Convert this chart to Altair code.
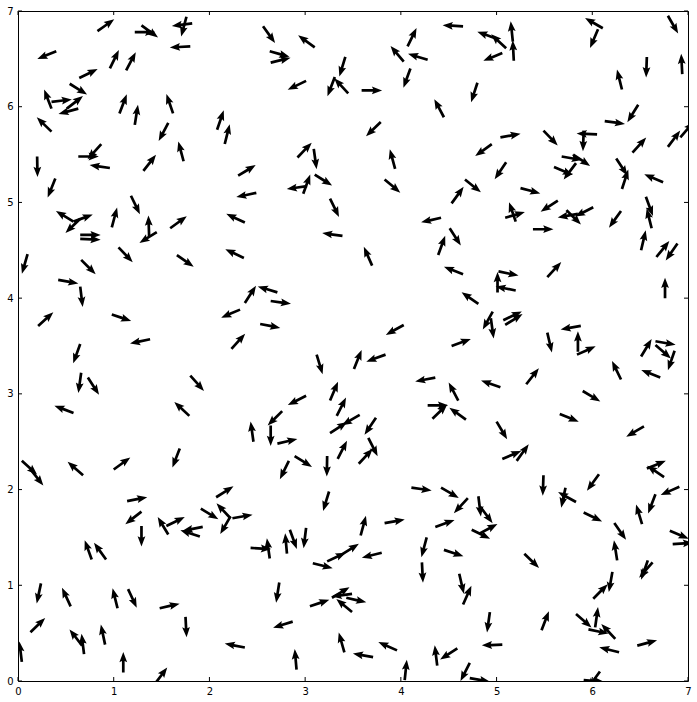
import altair as alt
import pandas as pd

tick_values = [0, 1, 2, 3, 4, 5, 6, 7]

# arrow tails (data units) and directions (degrees, counter-clockwise from +x)
x_tail = (
    [0.83, 1.22, 1.29, 1.82, 1.76, 1.80, 0.40, 0.96, 1.13, 0.64, 0.54, 0.35, 0.35, 0.51, 0.63, 0.35, 1.06, 1.22, 1.62, 1.57, 2.08, 2.16, 0.87, 0.63, 0.96, 0.20, 1.31, 1.73]
    + [2.56, 3.10, 2.63, 2.64, 3.42, 3.01, 3.31, 3.45, 3.59, 4.03, 4.07, 4.28, 4.10, 4.65, 4.45, 3.79, 2.92, 3.09, 3.94, 2.30]
    + [5.00, 5.10, 5.18, 5.17, 5.06, 6.11, 6.06, 6.79, 6.94, 6.57, 6.31, 4.80, 6.48, 6.13, 5.04, 4.95, 5.49, 6.05, 5.91, 5.10, 5.68, 5.80, 5.60, 5.83, 6.25, 6.42, 6.79, 6.92]
    + [0.39, 0.58, 0.58, 0.65, 0.65, 0.65, 0.98, 1.18, 1.37, 1.45, 1.59, 2.37, 0.10, 1.05, 1.66, 2.36, 0.66, 0.42, 0.65, 0.21, 0.98, 2.32, 1.38, 2.23]
    + [2.98, 3.02, 3.10, 3.26, 2.49, 3.39, 3.83, 4.53, 4.42, 4.51, 4.39, 3.70, 4.65, 2.37, 2.71, 2.64, 2.53, 4.03, 4.53]
    + [4.67, 6.31, 6.74, 5.25, 5.64, 5.09, 5.20, 5.85, 5.73, 6.01, 6.30, 6.56, 6.62, 5.38, 6.51, 6.67, 6.89, 5.53, 5.02, 5.01, 5.20, 4.81, 6.76, 4.96, 4.94, 5.07, 5.09, 5.88, 5.53, 5.85, 6.66]
    + [5.84, 6.51, 6.66, 6.86, 6.71, 6.30, 5.31, 5.04, 5.90, 5.66, 5.00, 6.54, 5.06, 5.21, 6.75, 6.57, 6.07, 5.49, 5.83, 5.72, 6.91, 6.66, 4.81, 4.83, 5.91, 6.52]
    + [0.65, 0.66, 0.73, 0.58, 1.80, 1.79, 0.04, 0.13, 0.68, 1.00, 1.69, 1.14, 2.07, 1.29, 1.91, 2.22, 2.24, 2.22, 1.57, 1.55]
    + [3.12, 3.51, 3.84, 4.36, 4.60, 4.28, 4.33, 4.68, 3.26, 3.01, 2.76, 2.46, 2.64, 2.71, 3.33, 3.26, 3.57, 3.74, 3.66, 3.56, 3.34, 2.83, 2.89, 3.23, 3.25, 4.11, 4.42, 4.70]
    + [1.29, 1.93, 1.90, 0.77, 0.92, 0.24, 0.55, 1.04, 1.15, 1.48, 1.75, 0.13, 0.67, 0.69, 0.91, 0.04, 1.10, 2.37, 1.43]
    + [3.58, 3.83, 4.36, 2.43, 2.63, 2.81, 2.84, 3.01, 3.23, 3.38, 3.80, 3.08, 4.27, 4.45, 4.22, 4.61, 4.65, 2.73, 3.05, 3.28, 3.49, 3.43, 3.49, 2.87, 3.41, 3.71, 3.96, 2.91, 4.04, 4.38, 4.59, 4.72]
    + [4.74, 4.82, 6.23, 6.81, 6.84, 6.26, 5.29, 6.63, 6.58, 6.21, 6.01, 4.93, 5.47, 5.83, 6.03, 5.96, 6.24, 5.06, 6.28, 6.47, 4.72, 6.08, 5.91]
)
y_tail = (
    [6.79, 6.78, 6.85, 6.87, 6.94, 6.63, 6.58, 6.40, 6.38, 6.30, 6.24, 5.98, 6.05, 5.98, 5.98, 5.74, 5.93, 5.81, 5.93, 5.83, 5.76, 5.61, 5.61, 5.48, 5.36, 5.48, 5.33, 5.43]
    + [6.84, 6.62, 6.58, 6.46, 6.52, 6.27, 6.31, 6.14, 6.17, 6.47, 6.63, 6.49, 6.40, 6.84, 5.89, 5.84, 5.47, 5.56, 5.35, 5.28]
    + [6.71, 6.61, 6.48, 6.68, 6.56, 6.82, 6.81, 6.95, 6.34, 6.52, 6.18, 6.25, 6.02, 5.85, 5.68, 5.61, 5.75, 5.71, 5.75, 5.42, 5.48, 5.50, 5.37, 5.41, 5.46, 5.52, 5.58, 5.68]
    + [5.25, 4.80, 4.80, 4.83, 4.66, 4.62, 4.74, 5.07, 4.65, 4.69, 4.73, 4.79, 4.46, 4.53, 4.45, 4.42, 4.40, 4.19, 4.12, 3.71, 3.83, 3.88, 3.57, 3.47]
    + [5.09, 5.17, 5.29, 5.04, 5.10, 4.65, 5.24, 4.99, 4.84, 4.73, 4.45, 4.34, 4.25, 3.95, 4.06, 3.97, 3.73, 3.72, 3.50]
    + [5.24, 5.14, 5.21, 5.15, 5.02, 4.84, 4.80, 4.88, 4.92, 4.95, 4.91, 5.06, 4.73, 4.72, 4.50, 4.43, 4.57, 4.22, 4.28, 4.06, 4.08, 3.94, 4.00, 3.86, 3.79, 3.77, 3.72, 3.71, 3.64, 3.44, 3.55]
    + [3.41, 3.39, 3.51, 3.45, 3.17, 3.15, 3.10, 3.07, 3.03, 2.79, 2.71, 2.66, 2.32, 2.30, 2.13, 2.22, 2.16, 2.15, 1.87, 2.02, 2.03, 1.95, 1.93, 1.82, 1.76, 1.64]
    + [3.52, 3.22, 3.17, 2.80, 3.19, 2.77, 2.30, 2.21, 2.15, 2.21, 2.43, 1.88, 1.92, 1.77, 1.80, 1.70, 1.70, 1.72, 1.53, 1.62]
    + [3.41, 3.26, 3.41, 3.17, 2.93, 2.88, 2.74, 2.73, 2.93, 2.98, 2.82, 2.50, 2.67, 2.48, 2.77, 2.59, 2.78, 2.75, 2.54, 2.27, 2.32, 2.30, 2.35, 2.35, 1.98, 2.02, 2.02, 1.91]
    + [1.62, 1.61, 1.51, 1.27, 1.27, 1.02, 0.78, 0.76, 0.96, 0.76, 0.67, 0.51, 0.37, 0.28, 0.38, 0.20, 0.09, 0.35, -0.03]
    + [1.52, 1.65, 1.61, 1.39, 1.28, 1.33, 1.58, 1.60, 1.25, 1.32, 1.34, 1.23, 1.50, 1.37, 1.24, 1.12, 0.80, 1.03, 0.78, 0.87, 0.91, 0.87, 0.72, 0.62, 0.30, 0.25, 0.32, 0.12, 0.01, 0.16, 0.34, 0.19]
    + [1.58, 1.54, 1.65, 1.57, 1.43, 1.26, 1.33, 1.24, 1.26, 1.14, 0.86, 0.72, 0.53, 0.70, 0.56, 0.54, 0.44, 0.38, 0.30, 0.37, 0.03, 0.10, 0.01]
)
direction = (
    [35, 0, 324, 187, 255, 183, 202, 64, 62, 26, 328, 111, 7, 38, 195, 136, 69, 81, 109, 242, 71, 76, 228, 0, 172, 271, 52, 105]
    + [306, 144, 344, 14, 253, 206, 249, 133, 0, 130, 64, 163, 250, 177, 118, 224, 46, 278, 105, 31]
    + [160, 137, 93, 96, 202, 150, 247, 300, 93, 268, 104, 252, 238, 352, 10, 216, 314, 177, 268, 236, 350, 326, 337, 233, 303, 48, 53, 49]
    + [248, 149, 20, 224, 0, 357, 75, 296, 92, 212, 36, 155, 254, 314, 325, 155, 315, 350, 277, 42, 341, 203, 192, 48]
    + [70, 188, 328, 296, 192, 172, 320, 54, 193, 303, 70, 114, 159, 57, 163, 352, 349, 209, 20]
    + [321, 72, 157, 345, 213, 16, 109, 190, 315, 207, 234, 290, 104, 0, 77, 51, 235, 47, 348, 90, 169, 145, 90, 241, 278, 25, 32, 190, 283, 90, 350]
    + [24, 59, 319, 251, 158, 116, 52, 161, 329, 338, 301, 210, 23, 54, 146, 22, 234, 268, 151, 258, 204, 249, 277, 307, 334, 107]
    + [250, 262, 303, 159, 312, 137, 318, 309, 139, 36, 249, 11, 32, 218, 329, 133, 10, 240, 121, 26]
    + [287, 68, 200, 191, 118, 0, 44, 144, 67, 207, 225, 98, 270, 13, 63, 33, 210, 236, 297, 47, 63, 244, 328, 269, 253, 352, 330, 227]
    + [270, 191, 162, 110, 126, 258, 115, 104, 295, 13, 273, 44, 128, 97, 102, 97, 90, 169, 53]
    + [75, 10, 20, 357, 98, 95, 290, 263, 25, 32, 194, 346, 255, 342, 273, 283, 66, 261, 19, 31, 187, 347, 140, 197, 106, 170, 156, 95, 84, 97, 213, 243]
    + [334, 28, 305, 337, 4, 99, 316, 229, 251, 260, 45, 262, 69, 319, 82, 348, 133, 182, 166, 15, 350, 234, 355]
)

n = min(len(x_tail), len(y_tail), len(direction))
df = pd.DataFrame({"x": x_tail[:n], "y": y_tail[:n], "dir": direction[:n]})
tick_df = pd.DataFrame({"t": tick_values})

W, H = 670, 670
FONT = "DejaVu Sans"

# quiver-style arrow, tail at the symbol origin, pointing along +x
ARROW = "M0,-0.066L0.56,-0.066L0.5,-0.19L1,0L0.5,0.19L0.56,0.066L0,0.066Z"

xs = alt.Scale(domain=[0, 7], nice=False, zero=False)
ys = alt.Scale(domain=[0, 7], nice=False, zero=False)

axis_style = dict(values=tick_values, format="d", title=None, ticks=False,
                  domain=False, grid=False, labelFlush=False, labelOverlap=False,
                  labelPadding=5, labelFontSize=10, labelFont=FONT, labelColor="black")
x_axis = alt.Axis(**axis_style)
y_axis = alt.Axis(**axis_style)

arrows = alt.Chart(df).transform_calculate(
    rot="(360 - datum.dir) % 360"
).mark_point(
    shape=ARROW, filled=True, size=1681, opacity=1, color="black", clip=True
).encode(
    x=alt.X("x:Q", scale=xs, axis=x_axis),
    y=alt.Y("y:Q", scale=ys, axis=y_axis),
    angle=alt.Angle("rot:Q", scale=None),
)

tick_mark = alt.Chart(tick_df).mark_rule(color="black", strokeWidth=1)
bottom = tick_mark.encode(x=alt.X("t:Q", scale=xs, axis=x_axis), y=alt.value(H), y2=alt.value(H - 4))
top = tick_mark.encode(x=alt.X("t:Q", scale=xs, axis=x_axis), y=alt.value(0), y2=alt.value(4))
left = tick_mark.encode(y=alt.Y("t:Q", scale=ys, axis=y_axis), x=alt.value(0), x2=alt.value(4))
right = tick_mark.encode(y=alt.Y("t:Q", scale=ys, axis=y_axis), x=alt.value(W), x2=alt.value(W - 4))

chart = alt.layer(arrows, bottom, top, left, right).properties(
    width=W, height=H,
    autosize=alt.AutoSizeParams(type="none"),
    padding={"left": 18, "top": 11, "right": 9, "bottom": 21},
    background="white",
).configure_view(stroke="black", strokeWidth=1)

chart.save("out.html", embed_options={"renderer": "svg", "actions": False})
